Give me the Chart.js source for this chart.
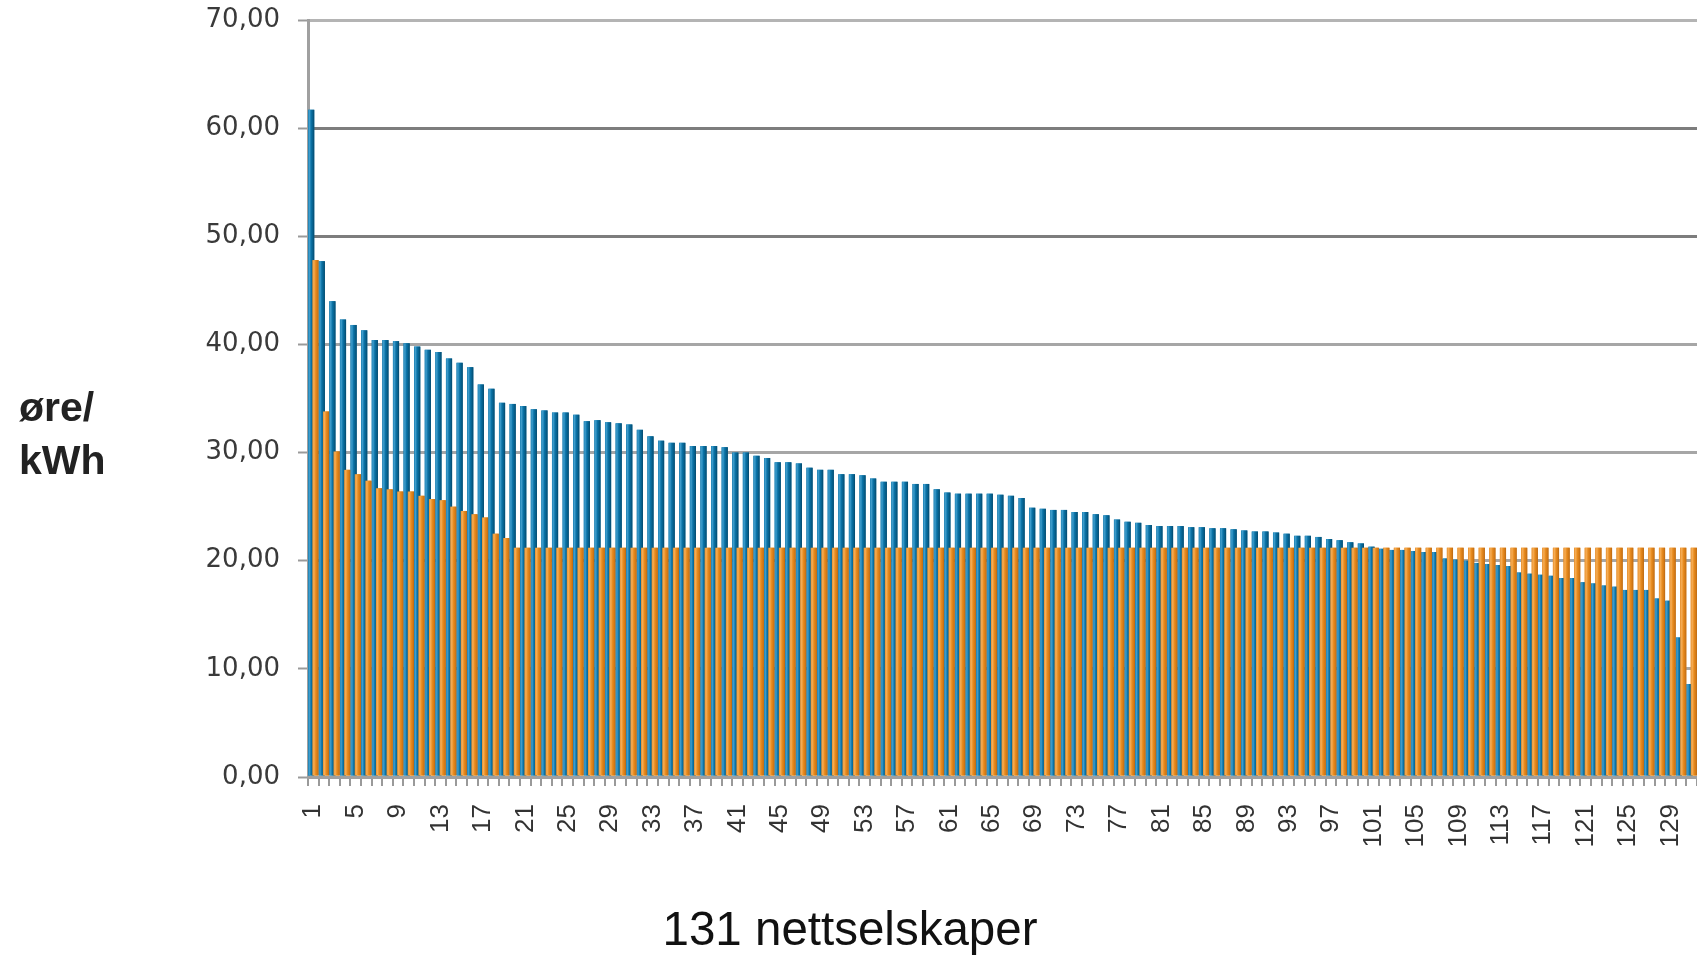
<!DOCTYPE html>
<html>
<head>
<meta charset="utf-8">
<script src="https://cdn.jsdelivr.net/npm/chart.js@4.4.1/dist/chart.umd.min.js"></script>
<style>
    html, body { margin: 0; padding: 0; background: #fff; overflow: hidden; }
    #wrap { position: absolute; left: 0; top: 0; width: 1697px; height: 956px; }
    .ytitle {
        position: absolute; left: 19px; top: 381px;
        font: bold 41px "Liberation Sans", Arial, sans-serif;
        line-height: 53px; color: #222;
    }
    .xtitle {
        position: absolute; left: 850px; top: 902px; transform: translateX(-50%);
        font: 47.5px "Liberation Sans", Arial, sans-serif;
        line-height: 1.15; color: #111; white-space: nowrap;
    }
</style>
</head>
<body>
<div id="wrap"><canvas id="tariffChart"></canvas></div>
<div class="ytitle">øre/<br>kWh</div>
<div class="xtitle">131 nettselskaper</div>
<script>
// 131 grid companies, sorted by the blue series
const categories = Array.from({ length: 131 }, (_, i) => String(i + 1));
const tickEvery = 4;

const blueValues = [
    61.7, 47.7, 44.0, 42.3, 41.8, 41.3, 40.4, 40.4, 40.3, 40.1,
    39.8, 39.5, 39.3, 38.7, 38.3, 37.9, 36.3, 35.9, 34.6, 34.5,
    34.3, 34.0, 33.9, 33.7, 33.7, 33.5, 32.9, 33.0, 32.8, 32.7,
    32.6, 32.1, 31.5, 31.1, 30.9, 30.9, 30.6, 30.6, 30.6, 30.5,
    30.0, 30.0, 29.7, 29.5, 29.1, 29.1, 29.0, 28.6, 28.4, 28.4,
    28.0, 28.0, 27.9, 27.6, 27.3, 27.3, 27.3, 27.1, 27.1, 26.6,
    26.3, 26.2, 26.2, 26.2, 26.2, 26.1, 26.0, 25.8, 24.9, 24.8,
    24.7, 24.7, 24.5, 24.5, 24.3, 24.2, 23.8, 23.6, 23.5, 23.3,
    23.2, 23.2, 23.2, 23.1, 23.1, 23.0, 23.0, 22.9, 22.8, 22.7,
    22.7, 22.6, 22.5, 22.3, 22.3, 22.2, 22.0, 21.9, 21.7, 21.6,
    21.3, 21.1, 21.0, 21.0, 20.9, 20.8, 20.8, 20.2, 20.1, 20.0,
    19.8, 19.7, 19.6, 19.5, 18.9, 18.8, 18.7, 18.6, 18.4, 18.4,
    18.0, 17.9, 17.7, 17.6, 17.3, 17.3, 17.3, 16.5, 16.3, 12.9, 8.6
];

const orangeValues = [
    47.8, 33.8, 30.1, 28.4, 28.0, 27.4, 26.7, 26.6, 26.4, 26.4,
    26.0, 25.7, 25.6, 25.0, 24.6, 24.3, 24.0, 22.5, 22.1,
    21.2, 21.2, 21.2, 21.2, 21.2, 21.2, 21.2, 21.2, 21.2, 21.2, 21.2, 21.2, 21.2, 21.2, 21.2, 21.2,
    21.2, 21.2, 21.2, 21.2, 21.2, 21.2, 21.2, 21.2, 21.2, 21.2, 21.2, 21.2, 21.2, 21.2, 21.2, 21.2,
    21.2, 21.2, 21.2, 21.2, 21.2, 21.2, 21.2, 21.2, 21.2, 21.2, 21.2, 21.2, 21.2, 21.2, 21.2, 21.2,
    21.2, 21.2, 21.2, 21.2, 21.2, 21.2, 21.2, 21.2, 21.2, 21.2, 21.2, 21.2, 21.2, 21.2, 21.2, 21.2,
    21.2, 21.2, 21.2, 21.2, 21.2, 21.2, 21.2, 21.2, 21.2, 21.2, 21.2, 21.2, 21.2, 21.2, 21.2, 21.2,
    21.2, 21.2, 21.2, 21.2, 21.2, 21.2, 21.2, 21.2, 21.2, 21.2, 21.2, 21.2, 21.2, 21.2, 21.2, 21.2,
    21.2, 21.2, 21.2, 21.2, 21.2, 21.2, 21.2, 21.2, 21.2, 21.2, 21.2, 21.2, 21.2, 21.2, 21.2, 21.2
];

const yTicks = [0, 10, 20, 30, 40, 50, 60, 70];

// left-to-right shading so the columns look like the rounded 3D bars
const shadeStops = [
    [[0, '#1f83b6'], [0.22, '#3f9dcc'], [0.5, '#0a72a6'], [0.8, '#065d88'], [1, '#04476a']],
    [[0, '#e8912f'], [0.25, '#f6ad55'], [0.55, '#e78a1d'], [0.85, '#d07716'], [1, '#b4640f']]
];

// gridline look per value (50/60 darker, top lighter)
function gridColor(ctx) {
    const v = ctx.tick ? ctx.tick.value : 0;
    if (v === 50 || v === 60) return '#7d7d7d';
    if (v === 70) return '#b4b4b4';
    if (v === 0) return '#a0a0a0';
    return '#a6a6a6';
}

// redraw the columns with shading, orange last so it sits in front
const cylinderShade = {
    id: 'cylinderShade',
    afterDatasetsDraw(chart) {
        const ctx = chart.ctx;
        const area = chart.chartArea;
        ctx.save();
        ctx.beginPath();
        ctx.rect(area.left, area.top, area.right - area.left, area.bottom - area.top);
        ctx.clip();
        [0, 1].forEach(di => {
            const stops = shadeStops[di];
            chart.getDatasetMeta(di).data.forEach(el => {
                const { x, y, base, width } = el.getProps(['x', 'y', 'base', 'width'], true);
                const left = x - width / 2;
                const g = ctx.createLinearGradient(left, 0, left + width, 0);
                stops.forEach(s => g.addColorStop(s[0], s[1]));
                ctx.fillStyle = g;
                ctx.fillRect(left, Math.min(y, base), width, Math.abs(base - y));
            });
        });
        ctx.restore();
    }
};

const wrap = document.getElementById('wrap');
const chart = new Chart(document.getElementById('tariffChart'), {
    type: 'bar',
    data: {
        labels: categories,
        datasets: [{
            data: blueValues,
            backgroundColor: '#0b76a9',
            categoryPercentage: 0.8,
            barPercentage: 1.45
        }, {
            data: orangeValues,
            backgroundColor: '#e5891d',
            categoryPercentage: 0.8,
            barPercentage: 1.45
        }]
    },
    options: {
        responsive: true,
        maintainAspectRatio: false,
        animation: false,
        layout: { padding: { top: 20, left: 0, right: 0, bottom: 0 } },
        plugins: {
            legend: { display: false },
            tooltip: { enabled: false }
        },
        scales: {
            x: {
                grid: {
                    offset: true,
                    drawOnChartArea: false,
                    drawTicks: true,
                    tickLength: 9,
                    color: '#9a9a9a',
                    lineWidth: 2
                },
                border: { color: '#a0a0a0', width: 3 },
                ticks: {
                    autoSkip: false,
                    maxRotation: 90,
                    minRotation: 90,
                    padding: 18,
                    color: '#333',
                    font: { family: 'Liberation Sans', size: 26 },
                    callback: (v, i) => (i % tickEvery === 0 ? categories[i] : '')
                },
                afterFit: scale => {
                    scale.height = 179;
                    scale.paddingLeft = 0;
                    scale.paddingRight = 0;
                }
            },
            y: {
                min: 0,
                max: 70,
                afterBuildTicks: scale => { scale.ticks = yTicks.map(v => ({ value: v })); },
                ticks: {
                    padding: 18,
                    color: '#3a3a3a',
                    font: { family: 'DejaVu Sans', size: 26 },
                    callback: v => Number(v).toFixed(2).replace('.', ',')
                },
                grid: {
                    color: gridColor,
                    lineWidth: 3,
                    tickLength: 10,
                    tickColor: '#9a9a9a',
                    tickWidth: 2
                },
                border: { color: '#a0a0a0', width: 3 },
                afterFit: scale => {
                    scale.width = 308;
                    scale.paddingTop = 0;
                    scale.paddingBottom = 0;
                }
            }
        }
    },
    plugins: [cylinderShade]
});

// make sure the plot runs to the right edge of the window
for (let k = 0; k < 3; k++) {
    const diff = chart.chartArea.right - 1697;
    if (Math.abs(diff) < 0.5) break;
    wrap.style.width = (parseFloat(wrap.style.width || 1697) - diff) + 'px';
    chart.resize();
}
</script>
</body>
</html>
